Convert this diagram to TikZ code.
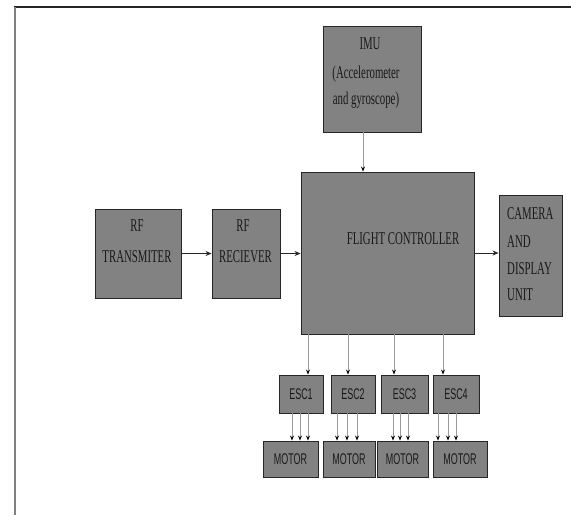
\documentclass[tikz,border=0pt]{standalone}
\usepackage{fontspec}
\usetikzlibrary{arrows.meta}
\newfontfamily\serifn[FakeStretch=0.6]{Liberation Serif}
\newfontfamily\sansn[FakeStretch=0.58]{Liberation Sans}
\definecolor{boxgray}{RGB}{130,130,130}
\definecolor{txt}{RGB}{25,25,25}
\begin{document}
\begin{tikzpicture}[x=1pt,y=-1pt,
  box/.style={draw=black!85, line width=0.9pt, fill=boxgray, rectangle, inner sep=0pt},
  lbl/.style={text=txt, inner sep=0pt, anchor=base, font=\serifn\fontsize{18}{20}\selectfont},
  lblw/.style={lbl, anchor=base west},
  small/.style={text=txt, font=\sansn\fontsize{15.5}{16}\selectfont},
  harr/.style={draw=black!85, line width=1pt, -{Stealth[length=6pt,width=5pt]}},
  varr/.style={draw=gray!80, line width=0.9pt, -{Stealth[black,length=5pt,width=4pt]}}]
\useasboundingbox (0,0) rectangle (571,515);
% frame
\draw[black!85, line width=1.3pt] (14,7) -- (571,7);
\draw[gray, line width=2pt] (14.5,7) -- (14.5,515);
% boxes
\node[box, minimum width=98pt, minimum height=106pt] (imu) at (372,79) {};
\node[box, minimum width=86pt, minimum height=89pt] (tx) at (138,253.5) {};
\node[box, minimum width=68pt, minimum height=89pt] (rx) at (246,253.5) {};
\node[box, minimum width=173pt, minimum height=162pt] (fc) at (387.5,253) {};
\node[box, minimum width=63pt, minimum height=121pt] (cam) at (530.5,255.5) {};
\node[box, small, minimum width=44pt, minimum height=38pt] (esc1) at (301,394) {ESC1};
\node[box, small, minimum width=44pt, minimum height=38pt] (esc2) at (353,394) {ESC2};
\node[box, small, minimum width=47pt, minimum height=38pt] (esc3) at (404.5,394) {ESC3};
\node[box, small, minimum width=46pt, minimum height=38pt] (esc4) at (456,394) {ESC4};
\node[box, small, minimum width=55pt, minimum height=36pt] (m1) at (290.5,459) {MOTOR};
\node[box, small, minimum width=52pt, minimum height=36pt] (m2) at (349,459) {MOTOR};
\node[box, small, minimum width=51pt, minimum height=36pt] (m3) at (402.5,459) {MOTOR};
\node[box, small, minimum width=54pt, minimum height=36pt] (m4) at (460,459) {MOTOR};
% texts
\node[lbl] (t1) at (370,49) {IMU};
\node[lbl] (t2) at (366,78) {(Accelerometer};
\node[lbl] (t3) at (366,104.5) {and gyroscope)};
\node[lbl] (t4) at (137,231) {RF};
\node[lbl] (t5) at (137,262) {TRANSMITER};
\node[lbl] (t6) at (243,231) {RF};
\node[lbl] (t7) at (245.5,262) {RECIEVER};
\node[lbl] (t8) at (403,244) {FLIGHT CONTROLLER};
\node[lblw] (t9) at (507,219) {CAMERA};
\node[lblw] (t10) at (507,247) {AND};
\node[lblw] (t11) at (507,274) {DISPLAY};
\node[lblw] (t12) at (507,300) {UNIT};
% connectors
\draw[harr] (tx.east) -- (rx.west);
\draw[harr] (rx.east) -- (rx.east -| fc.west);
\draw[harr] (fc.east) -- (fc.east -| cam.west);
\draw[varr] ([xshift=-9pt]imu.south) -- ([xshift=-9pt]imu.south |- fc.north);
\draw[varr] ([xshift=7pt]esc1.north |- fc.south) -- ([xshift=7pt]esc1.north);
\draw[varr] ([xshift=-5pt]esc2.north |- fc.south) -- ([xshift=-5pt]esc2.north);
\draw[varr] ([xshift=-10.5pt]esc3.north |- fc.south) -- ([xshift=-10.5pt]esc3.north);
\draw[varr] ([xshift=-13pt]esc4.north |- fc.south) -- ([xshift=-13pt]esc4.north);
\foreach \e/\m/\s in {esc1/m1/-9, esc1/m1/-1, esc1/m1/7,
                      esc2/m2/-16, esc2/m2/-6, esc2/m2/4,
                      esc3/m3/-11.5, esc3/m3/-4.5, esc3/m3/3.5,
                      esc4/m4/-18, esc4/m4/-8, esc4/m4/0}
  \draw[varr] ([xshift=\s pt]\e.south) -- ([xshift=\s pt]\e.south |- \m.north);
\end{tikzpicture}
\end{document}
